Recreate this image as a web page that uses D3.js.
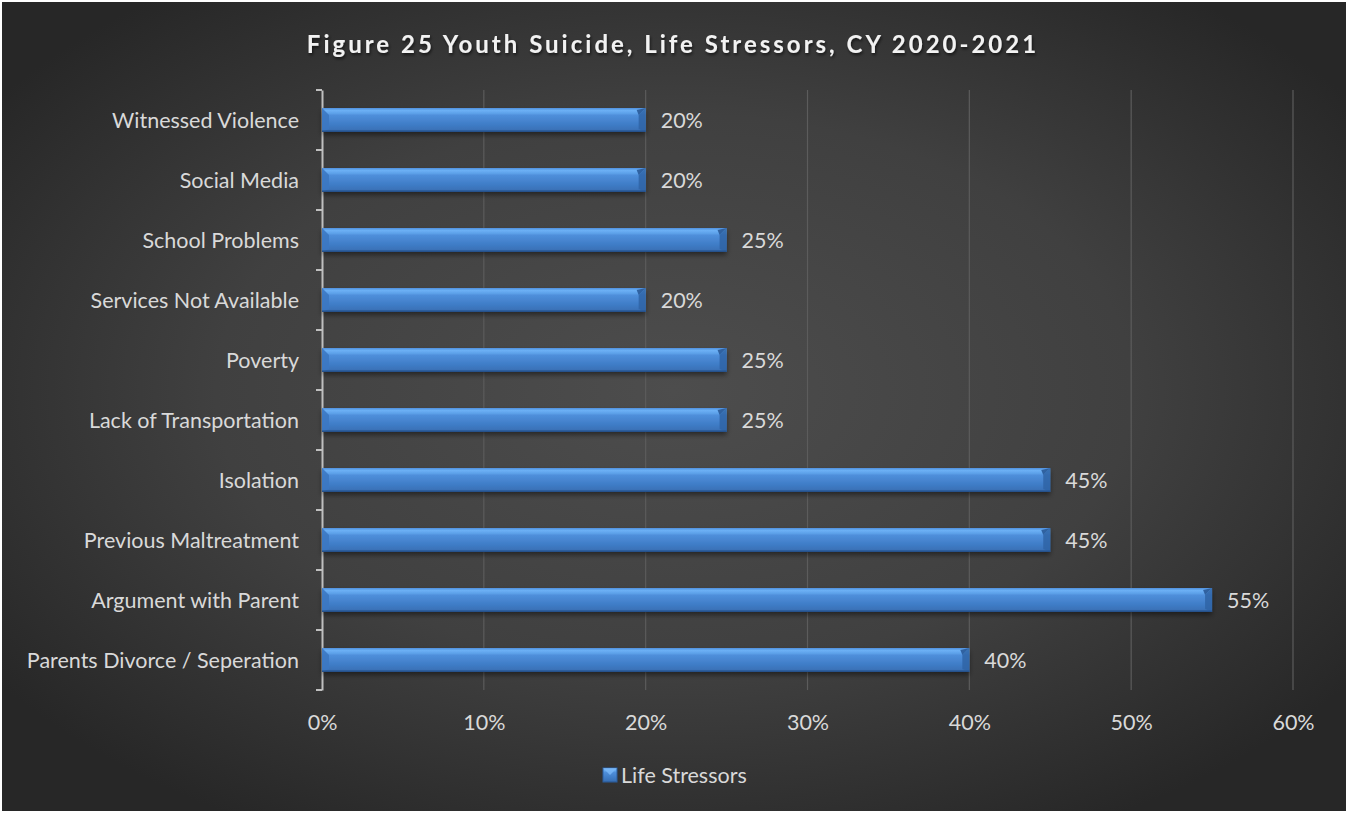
<!DOCTYPE html>
<html>
<head>
<meta charset="utf-8">
<script src="https://cdn.jsdelivr.net/npm/d3@7"></script>
<style>
  html, body { margin: 0; padding: 0; background: #ffffff; }
  svg { display: block; }
</style>
</head>
<body>
<div id="chart"></div>
<script>
// Life stressors reported in youth suicide cases, CY 2020-2021
const categories = [
  "Witnessed Violence",
  "Social Media",
  "School Problems",
  "Services Not Available",
  "Poverty",
  "Lack of Transportation",
  "Isolation",
  "Previous Maltreatment",
  "Argument with Parent ",
  "Parents Divorce / Seperation"
];
const values = [0.20, 0.20, 0.25, 0.20, 0.25, 0.25, 0.45, 0.45, 0.55, 0.40];
const xTicks = [0, 0.1, 0.2, 0.3, 0.4, 0.5, 0.6];
const seriesName = "Life Stressors";
const titleText = "Figure 25 Youth Suicide, Life Stressors, CY 2020-2021";

const W = 1346, H = 813;
const font = "Lato, 'Open Sans', sans-serif";
const fs = 21.5;
const margin = { left: 322, right: 53, top: 90, bottom: 123 };

const svg = d3.select("#chart").append("svg")
  .attr("width", W).attr("height", H);

const defs = svg.append("defs");

// Dark background with a soft light centre
const bg = defs.append("radialGradient").attr("id", "bgGrad")
  .attr("cx", "50%").attr("cy", "48%").attr("r", "62%");
bg.append("stop").attr("offset", "0%").attr("stop-color", "#4d4d4d");
bg.append("stop").attr("offset", "55%").attr("stop-color", "#404040");
bg.append("stop").attr("offset", "100%").attr("stop-color", "#272727");

// Bar body shading: light top edge, darker bottom
const barGrad = defs.append("linearGradient").attr("id", "barGrad")
  .attr("x1", 0).attr("y1", 0).attr("x2", 0).attr("y2", 1);
[["0%", "#4f8fdc"], ["10%", "#6cb0f5"], ["22%", "#5ea2ea"], ["30%", "#4f8fdb"],
 ["70%", "#3f7cc6"], ["90%", "#3a72b8"], ["100%", "#2d5f9f"]]
  .forEach(([o, c]) => barGrad.append("stop").attr("offset", o).attr("stop-color", c));

const shadow = defs.append("filter").attr("id", "barShadow")
  .attr("x", "-5%").attr("y", "-40%").attr("width", "110%").attr("height", "200%");
shadow.append("feDropShadow").attr("dx", 0).attr("dy", 3).attr("stdDeviation", 2.5)
  .attr("flood-color", "#000").attr("flood-opacity", 0.45);

const titleShadow = defs.append("filter").attr("id", "titleShadow")
  .attr("x", "-5%").attr("y", "-30%").attr("width", "110%").attr("height", "160%");
titleShadow.append("feDropShadow").attr("dx", 1).attr("dy", 2).attr("stdDeviation", 1.5)
  .attr("flood-color", "#000").attr("flood-opacity", 0.6);

svg.append("rect")
  .attr("x", 2).attr("y", 2).attr("width", W - 2).attr("height", H - 4)
  .attr("fill", "url(#bgGrad)");

const x = d3.scaleLinear().domain([0, 0.6]).range([margin.left, W - margin.right]);
const yOuter = d3.scaleBand().domain(categories).range([margin.top, H - margin.bottom]);

// Vertical gridlines
svg.append("g").selectAll("line")
  .data(xTicks.filter(d => d > 0))
  .join("line")
  .attr("x1", d => x(d)).attr("x2", d => x(d))
  .attr("y1", margin.top).attr("y2", H - margin.bottom)
  .attr("stroke", "#5c5c5c").attr("stroke-width", 1.2);

// X axis tick labels
const xAxis = d3.axisBottom(x).tickValues(xTicks).tickFormat(d3.format(".0%")).tickSize(0).tickPadding(0);
const gx = svg.append("g").attr("transform", `translate(0, ${H - margin.bottom + 32})`).call(xAxis);
gx.select(".domain").remove();
gx.selectAll("text")
  .attr("font-family", font).attr("font-size", fs).attr("fill", "#d9d9d9")
  .attr("dy", "0.35em");

// Category axis with outer tick marks at band boundaries
const yAxis = d3.axisLeft(yOuter).tickSize(0).tickPadding(23);
const gy = svg.append("g").attr("transform", `translate(${margin.left}, 0)`).call(yAxis);
gy.select(".domain").attr("stroke", "#bfbfbf").attr("stroke-width", 2);
gy.selectAll("text")
  .attr("font-family", font).attr("font-size", fs).attr("fill", "#d9d9d9")
  .attr("dy", "0.35em");
const bounds = categories.map(c => yOuter(c)).concat([yOuter(categories[categories.length - 1]) + yOuter.bandwidth()]);
gy.append("g").selectAll("line").data(bounds).join("line")
  .attr("x1", -6).attr("x2", 0)
  .attr("y1", d => d).attr("y2", d => d)
  .attr("stroke", "#bfbfbf").attr("stroke-width", 2);

// Bars with bevelled ends
const data = categories.map((c, i) => ({ cat: c, val: values[i] }));
const bars = svg.append("g").selectAll("g").data(data).join("g");
const bh = 24;
const yc = d => yOuter(d.cat) + yOuter.bandwidth() / 2;
bars.append("rect")
  .attr("x", x(0)).attr("y", d => yc(d) - bh / 2)
  .attr("width", d => x(d.val) - x(0)).attr("height", bh)
  .attr("fill", "url(#barGrad)").attr("filter", "url(#barShadow)");
const bev = 7;
// right bevel: darker facet on the end cap
bars.append("path")
  .attr("d", d => {
    const x1 = x(d.val), y0 = yc(d) - bh / 2, y1 = yc(d) + bh / 2;
    return `M${x1},${y0} L${x1 - bev},${y0 + bev} L${x1 - bev},${y1 - 3} L${x1},${y1} Z`;
  })
  .attr("fill", "#2f64a6").attr("opacity", 0.85);
bars.append("path")
  .attr("d", d => {
    const x1 = x(d.val), y0 = yc(d) - bh / 2;
    return `M${x1},${y0} L${x1 - bev},${y0 + bev} L${x1 - bev - 2},${y0 + 2} Z`;
  })
  .attr("fill", "#2a5a98").attr("opacity", 0.9);
// left bevel
bars.append("path")
  .attr("d", d => {
    const x0 = x(0), y0 = yc(d) - bh / 2, y1 = yc(d) + bh / 2;
    return `M${x0},${y0} L${x0 + bev},${y0 + bev} L${x0 + bev},${y1 - 3} L${x0},${y1} Z`;
  })
  .attr("fill", "#3c78c2").attr("opacity", 0.9);
bars.append("rect")
  .attr("x", x(0)).attr("y", d => yc(d) + bh / 2 - 1.5)
  .attr("width", d => x(d.val) - x(0)).attr("height", 1.5)
  .attr("fill", "#26528c");

// Data labels
bars.append("text")
  .attr("x", d => x(d.val) + 15).attr("y", d => yc(d))
  .attr("dy", "0.35em")
  .attr("font-family", font).attr("font-size", fs).attr("fill", "#d9d9d9")
  .text(d => d3.format(".0%")(d.val));

// Title
svg.append("text")
  .attr("x", W / 2).attr("y", 45).attr("text-anchor", "middle").attr("dy", "0.35em")
  .attr("font-family", font).attr("font-size", 24).attr("font-weight", "bold")
  .attr("letter-spacing", 3).attr("fill", "#f2f2f2").attr("filter", "url(#titleShadow)")
  .text(titleText);

// Legend
const lg = svg.append("g").attr("transform", `translate(${W / 2 - 70}, 775)`);
lg.append("rect").attr("x", 0).attr("y", -7).attr("width", 14).attr("height", 14)
  .attr("fill", "url(#barGrad)").attr("stroke", "#2d5f9f").attr("stroke-width", 1);
lg.append("path").attr("d", "M0,-7 L7,0 L14,-7 Z").attr("fill", "#7ab8f7").attr("opacity", 0.8);
lg.append("text").attr("x", 18).attr("y", 0).attr("dy", "0.35em")
  .attr("font-family", font).attr("font-size", fs).attr("fill", "#d9d9d9")
  .text(seriesName);
</script>
</body>
</html>
